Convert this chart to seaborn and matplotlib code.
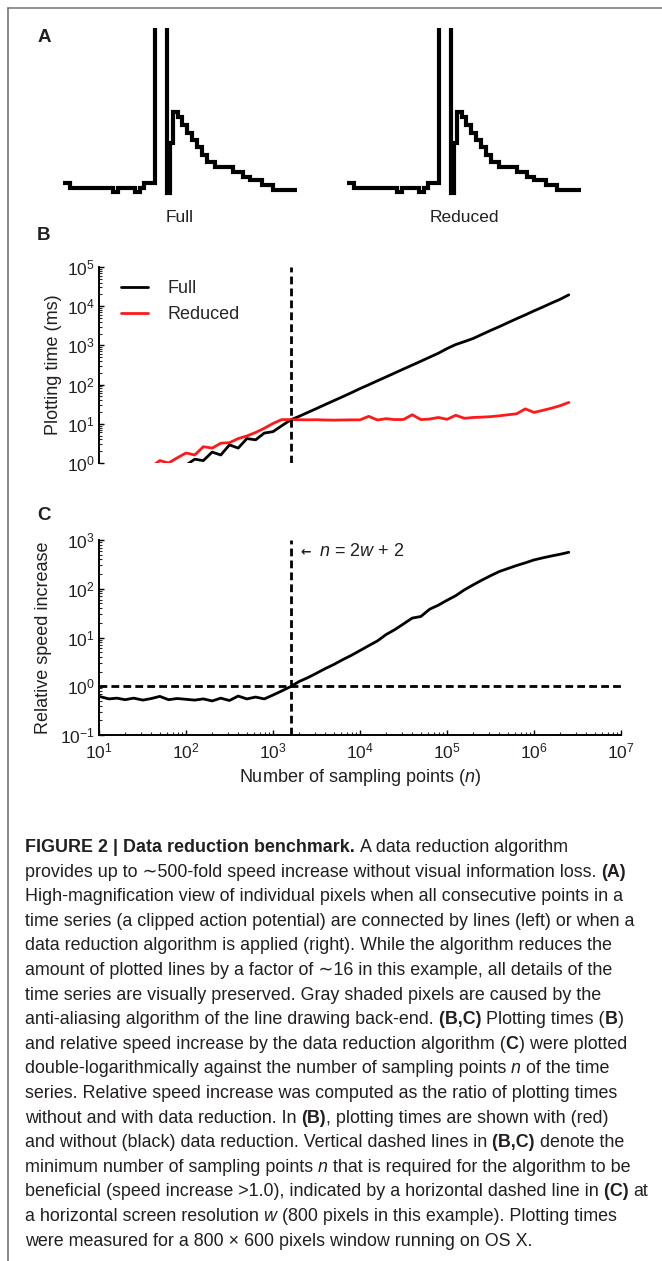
import numpy as np
import pandas as pd
import matplotlib
matplotlib.use("Agg")
import matplotlib.pyplot as plt
import seaborn as sns
from matplotlib.ticker import LogLocator, LogFormatterSciNotation, NullFormatter
from matplotlib.lines import Line2D

# ---------------- data ----------------
# Panel A: clipped action potential (sample index, level)
trace_t = [0, 7, 50, 55, 72, 77, 81, 91.5, 104, 107, 110, 115, 119, 124, 129,
           134, 139, 144, 152, 170, 180, 187, 199, 210, 234]
trace_v = [17, 12, 8, 12, 8, 12, 17, 400, 7, 57, 88, 83, 75, 67, 60,
           53, 45, 38, 33, 28, 23, 20, 15, 10, 10]
trace_names = ["Full", "Reduced"]

# Panels B & C: number of sampling points
n_points = [10, 13, 16, 20, 25, 32, 40, 50, 63, 79,
            100, 126, 158, 200, 251, 316, 398, 501, 631, 794,
            1000, 1259, 1585, 1995, 2512, 3162, 3981, 5012, 6310, 7943,
            10000, 12589, 15849, 19953, 25119, 31623, 39811, 50119, 63096, 79433,
            100000, 125893, 158489, 199526, 251189, 316228, 398107, 501187, 630957, 794328,
            1000000, 1258925, 1584893, 1995262, 2511886]
time_full = [0.11, 0.14, 0.17, 0.21, 0.26, 0.33, 0.41, 0.50, 0.60, 0.75,
             0.88, 1.25, 1.15, 1.9, 1.6, 2.9, 2.4, 4.2, 3.9, 5.8,
             6.3, 8.9, 12.5, 15.5, 19.5, 24.5, 31, 39, 49, 62,
             79, 99, 125, 157, 198, 250, 314, 395, 500, 630,
             830, 1050, 1250, 1500, 1900, 2400, 3000, 3800, 4800, 6000,
             7600, 9500, 12000, 15000, 19500]
time_reduced = [0.30, 0.35, 0.40, 0.45, 0.55, 0.65, 0.80, 1.15, 1.0, 1.35,
                1.8, 1.6, 2.6, 2.4, 3.2, 3.3, 4.2, 4.9, 6.0, 7.7,
                10.2, 12.8, 12.8, 12.7, 12.6, 12.7, 12.5, 12.4, 12.5, 12.6,
                12.6, 15.5, 12.5, 13.5, 12.8, 12.9, 17.0, 12.8, 13.2, 14.5,
                13.0, 16.5, 13.8, 14.5, 14.8, 15.2, 16.0, 17.0, 18.0, 24.0,
                19.5, 22.0, 25.0, 29.0, 35.0]
speed_ratio = [0.62, 0.55, 0.57, 0.53, 0.57, 0.52, 0.56, 0.62, 0.53, 0.56,
               0.54, 0.52, 0.55, 0.50, 0.57, 0.51, 0.63, 0.55, 0.60, 0.55,
               0.66, 0.80, 0.98, 1.25, 1.5, 1.85, 2.3, 2.8, 3.5, 4.3,
               5.4, 6.8, 8.5, 11.5, 14.5, 19, 25, 27, 38, 46,
               58, 72, 95, 120, 150, 185, 225, 260, 300, 340,
               390, 430, 470, 510, 560]
n_threshold = 2 * 800 + 2

caption = [
    [("FIGURE 2 | Data reduction benchmark. ", "b"), ("A data reduction algorithm", "r")],
    [("provides up to \u223c500-fold speed increase without visual information loss. ", "r"), ("(A)", "b")],
    [("High-magnification view of individual pixels when all consecutive points in a", "r")],
    [("time series (a clipped action potential) are connected by lines (left) or when a", "r")],
    [("data reduction algorithm is applied (right). While the algorithm reduces the", "r")],
    [("amount of plotted lines by a factor of \u223c16 in this example, all details of the", "r")],
    [("time series are visually preserved. Gray shaded pixels are caused by the", "r")],
    [("anti-aliasing algorithm of the line drawing back-end. ", "r"), ("(B,C) ", "b"),
     ("Plotting times (", "r"), ("B", "b"), (")", "r")],
    [("and relative speed increase by the data reduction algorithm (", "r"), ("C", "b"),
     (") were plotted", "r")],
    [("double-logarithmically against the number of sampling points ", "r"), ("n ", "i"),
     ("of the time", "r")],
    [("series. Relative speed increase was computed as the ratio of plotting times", "r")],
    [("without and with data reduction. In ", "r"), ("(B)", "b"),
     (", plotting times are shown with (red)", "r")],
    [("and without (black) data reduction. Vertical dashed lines in ", "r"), ("(B,C) ", "b"),
     ("denote the", "r")],
    [("minimum number of sampling points ", "r"), ("n ", "i"),
     ("that is required for the algorithm to be", "r")],
    [("beneficial (speed increase >1.0), indicated by a horizontal dashed line in ", "r"),
     ("(C) ", "b"), ("at", "r")],
    [("a horizontal screen resolution ", "r"), ("w ", "i"),
     ("(800 pixels in this example). Plotting times", "r")],
    [("were measured for a 800 \u00d7 600 pixels window running on OS X.", "r")],
]

# ---------------- style ----------------
sns.set_theme(style="ticks")
plt.rcParams["font.family"] = ["Liberation Sans", "DejaVu Sans"]
plt.rcParams["mathtext.fontset"] = "custom"
plt.rcParams["mathtext.rm"] = "Liberation Sans"
plt.rcParams["mathtext.it"] = "Liberation Sans:italic"
plt.rcParams["mathtext.bf"] = "Liberation Sans:bold"
TXT = "#231f20"

W, H = 662, 1261
fig = plt.figure(figsize=(W / 100, H / 100), dpi=100)
fig.patch.set_facecolor("white")


def px_axes(x0, y0, x1, y1):
    return fig.add_axes([x0 / W, 1 - y1 / H, (x1 - x0) / W, (y1 - y0) / H])


def fx(x):
    return x / W


def fy(y):
    return 1 - y / H


# frame (top and left rules)
fig.add_artist(Line2D([fx(7.5), 1], [fy(7.5), fy(7.5)], transform=fig.transFigure,
                      color="#8a8a8a", lw=1.3))
fig.add_artist(Line2D([fx(8), fx(8)], [fy(7.5), 0], transform=fig.transFigure,
                      color="#6a6a6a", lw=1.1))

# panel letters
for letter, (lx, ly) in zip("ABC", [(44, 38), (44, 236), (44, 516)]):
    fig.text(fx(lx), fy(ly), letter, fontsize=13.5, fontweight="bold", color=TXT,
             ha="center", va="center")

# ---------------- panel A ----------------
df_a = pd.DataFrame({"t": trace_t, "v": trace_v})
for i, (name, x0) in enumerate(zip(trace_names, [40, 324])):
    ax = px_axes(x0, 28, x0 + 280, 205)
    ax.plot(df_a["t"], df_a["v"], drawstyle="steps-post", color="black", lw=3.0,
            solid_joinstyle="miter", solid_capstyle="butt")
    ax.set_xlim(-23, 257)
    ax.set_ylim(-5, 172)
    ax.axis("off")
    fig.text(fx(x0 + 23 + 117), fy(217), name, fontsize=12.5, color=TXT,
             ha="center", va="center")

# ---------------- panel B ----------------
df_b = pd.DataFrame({
    "n": n_points * 2,
    "time": time_full + time_reduced,
    "series": ["Full"] * len(n_points) + ["Reduced"] * len(n_points),
})
ax_b = px_axes(99, 267, 621, 463)
sns.lineplot(data=df_b, x="n", y="time", hue="series",
             palette={"Full": "black", "Reduced": "#ff1a1a"},
             estimator=None, sort=False, lw=2.0, legend=False, ax=ax_b)
ax_b.set_xscale("log")
ax_b.set_yscale("log")
ax_b.set_xlim(10, 1e7)
ax_b.set_ylim(1, 1e5)
ax_b.axvline(n_threshold, color="black", lw=2.0, ls=(0, (2.8, 1.5)))
for s in ["top", "right", "bottom"]:
    ax_b.spines[s].set_visible(False)
ax_b.tick_params(axis="x", which="both", bottom=False, labelbottom=False)
ax_b.set_xlabel("")
ax_b.set_ylabel("Plotting time (ms)", fontsize=13, color=TXT)
ax_b.yaxis.set_label_coords((62 - 99) / 522, 0.5)
ax_b.legend(handles=[Line2D([], [], color="black", lw=2.0),
                     Line2D([], [], color="#ff1a1a", lw=2.0)],
            labels=["Full", "Reduced"], loc="upper left",
            bbox_to_anchor=((121 - 99) / 522, (463 - 280) / 196),
            frameon=False, borderpad=0, borderaxespad=0, handlelength=1.5,
            handletextpad=1.1, labelspacing=0.5, fontsize=13)

# ---------------- panel C ----------------
df_c = pd.DataFrame({"n": n_points, "ratio": speed_ratio})
ax_c = px_axes(99, 540, 621, 735)
sns.lineplot(data=df_c, x="n", y="ratio", color="black", estimator=None, sort=False,
             lw=2.0, ax=ax_c)
ax_c.set_xscale("log")
ax_c.set_yscale("log")
ax_c.set_xlim(10, 1e7)
ax_c.set_ylim(0.1, 1e3)
ax_c.axvline(n_threshold, color="black", lw=2.0, ls=(0, (2.8, 1.5)))
ax_c.axhline(1, color="black", lw=2.0, ls=(0, (2.8, 1.5)))
for s in ["top", "right"]:
    ax_c.spines[s].set_visible(False)
ax_c.set_ylabel("Relative speed increase", fontsize=13, color=TXT)
ax_c.yaxis.set_label_coords((52 - 99) / 522, 0.5)
ax_c.set_xlabel("Number of sampling points ($n$)", fontsize=13, color=TXT)
ax_c.xaxis.set_label_coords(0.5, -(767 - 735) / 195)
ax_c.text((300 - 99) / 522, (735 - 552) / 195, "\u2190", transform=ax_c.transAxes,
          fontsize=9, fontweight="bold", color=TXT, ha="left", va="center",
          family=["DejaVu Sans"])
ax_c.text((319 - 99) / 522, (735 - 552) / 195, "$n$ = 2$w$ + 2", transform=ax_c.transAxes,
          fontsize=13, color=TXT, ha="left", va="center")

# shared axis styling
for ax in (ax_b, ax_c):
    ax.set_facecolor("white")
    for s in ax.spines.values():
        s.set_linewidth(1.4)
        s.set_color("black")
    ax.yaxis.set_major_locator(LogLocator(base=10, numticks=12))
    ax.yaxis.set_major_formatter(LogFormatterSciNotation())
    ax.yaxis.set_minor_locator(LogLocator(base=10, subs=np.arange(2, 10), numticks=12))
    ax.yaxis.set_minor_formatter(NullFormatter())
    ax.tick_params(axis="both", which="major", direction="in", length=3.5, width=1.0,
                   labelsize=12.5, colors="black", labelcolor=TXT, pad=3)
    ax.tick_params(axis="both", which="minor", direction="in", length=2, width=0.8)
ax_c.xaxis.set_major_locator(LogLocator(base=10, numticks=12))
ax_c.xaxis.set_major_formatter(LogFormatterSciNotation())
ax_c.xaxis.set_minor_locator(LogLocator(base=10, subs=np.arange(2, 10), numticks=12))
ax_c.xaxis.set_minor_formatter(NullFormatter())
ax_c.tick_params(axis="x", which="major", pad=5)

# ---------------- caption ----------------
renderer = fig.canvas.get_renderer()
STYLE = {"r": dict(fontweight="normal", fontstyle="normal"),
         "b": dict(fontweight="bold", fontstyle="normal"),
         "i": dict(fontweight="normal", fontstyle="italic")}


def adv(s, st, fs):
    t1 = fig.text(0, 0, s + "|", fontsize=fs, **STYLE[st])
    t2 = fig.text(0, 0, "|", fontsize=fs, **STYLE[st])
    w = t1.get_window_extent(renderer).width - t2.get_window_extent(renderer).width
    t1.remove()
    t2.remove()
    return w


def line_width(runs, fs):
    return sum(adv(s, st, fs) for s, st in runs)


fs_cap = 12.0
widest = max(line_width(r, fs_cap) for r in caption)
fs_cap *= 624.0 / widest

CAP_X, BASE0, STEP = 25, 852, 24.6
for i, runs in enumerate(caption):
    x = CAP_X
    y = BASE0 + STEP * i
    for s, st in runs:
        fig.text(fx(x), fy(y), s, fontsize=fs_cap, color=TXT, ha="left",
                 va="baseline", **STYLE[st])
        x += adv(s, st, fs_cap)

fig.savefig("out.png", dpi=100, facecolor="white")
